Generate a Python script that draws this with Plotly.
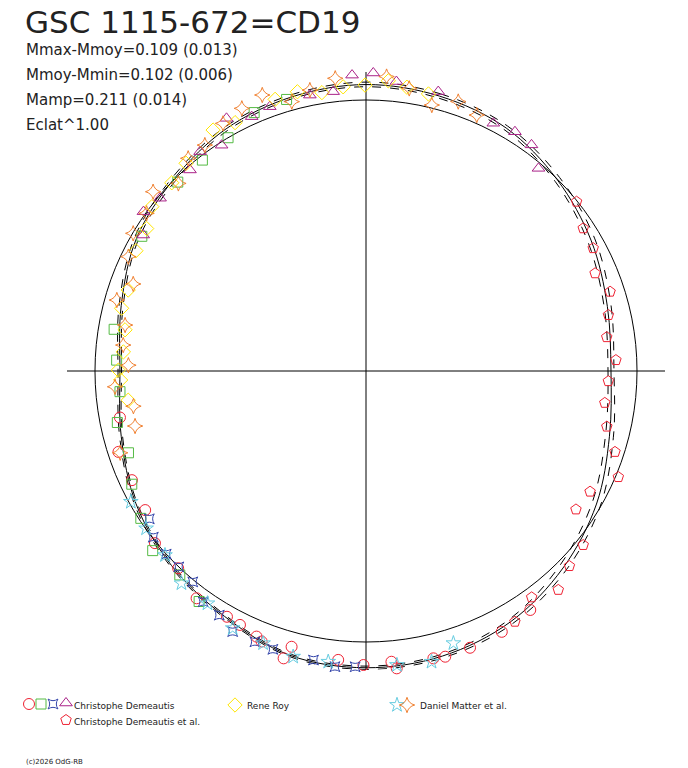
import plotly.graph_objects as go

# ── fitted light curve (phase angle in degrees, clockwise from top; radius = flux / mean flux)
fit_theta = [0, 15, 30, 45, 60, 75, 90, 105, 120, 135, 150, 165, 180,
             195, 210, 225, 240, 255, 270, 285, 300, 315, 330, 345, 360]
fit_r = [1.057, 1.050, 1.035, 0.998, 0.960, 0.922, 0.904, 0.930, 0.982, 1.028, 1.068, 1.089, 1.095,
         1.086, 1.045, 1.015, 0.980, 0.935, 0.908, 0.935, 0.978, 1.002, 1.032, 1.048, 1.057]
fit_hi = [1.066, 1.059, 1.044, 1.010, 0.975, 0.936, 0.915, 0.945, 0.998, 1.042, 1.078, 1.096, 1.101,
          1.091, 1.050, 1.020, 0.986, 0.941, 0.915, 0.943, 0.986, 1.010, 1.040, 1.056, 1.066]
fit_lo = [1.049, 1.042, 1.026, 0.988, 0.947, 0.910, 0.893, 0.915, 0.965, 1.013, 1.058, 1.082, 1.089,
          1.081, 1.040, 1.010, 0.975, 0.930, 0.902, 0.928, 0.970, 0.994, 1.024, 1.041, 1.049]

# ── Christophe Demeautis
cd_circ_theta = [145.5, 152.5, 159.4, 164.5, 166.8, 169.7, 174.1, 175.0, 180.5, 180.8, 185.5, 195.1, 196.0,
                 201.1, 202.4, 206.4, 209.5, 216.7, 223.6, 230.8, 237.8, 245.0, 251.9, 259.3]
cd_circ_r = [1.070, 1.085, 1.091, 1.094, 1.089, 1.115, 1.103, 1.077, 1.085, 1.130, 1.071, 1.054, 1.103,
             1.070, 1.060, 1.046, 1.042, 1.046, 1.005, 1.005, 0.963, 0.953, 0.961, 0.924]
cd_sq_theta = [279.4, 272.5, 265.2, 258.3, 251.0, 244.2, 236.8, 229.9, 222.4, 215.9,
               336.6, 343.7, 329.4, 322.2, 315.1, 301.0]
cd_sq_r = [0.942, 0.921, 0.911, 0.937, 0.927, 0.960, 0.993, 1.029, 1.019, 1.050,
           1.039, 1.044, 1.000, 0.985, 0.984, 0.965]
cd_x_theta = [235.7, 232.0, 227.5, 223.7, 219.4, 215.2, 211.0, 207.1, 202.3, 198.5, 190.3, 186.0, 182.1, 177.7]
cd_x_r = [0.968, 0.996, 1.000, 1.000, 1.007, 1.042, 1.051, 1.080, 1.080, 1.083, 1.084, 1.097, 1.092, 1.111]
cd_tri_theta = [357.3, 1.4, 6.0, 10.3, 14.5, 27.2, 31.9, 36.2, 40.4, 353.3, 348.5, 340.0, 335.8,
                331.1, 327.4, 322.9, 318.8, 310.0, 305.6, 301.4]
cd_tri_r = [1.093, 1.100, 1.074, 1.110, 1.065, 1.028, 1.040, 1.034, 0.982, 1.038, 1.039, 1.038, 1.029,
            1.065, 0.989, 1.015, 0.986, 0.992, 1.010, 0.963]

# ── Christophe Demeautis et al.
cdea_theta = [51.2, 56.7, 61.6, 66.9, 72.0, 77.0, 82.0, 87.5, 92.4, 97.6, 103.0, 108.0, 112.8,
              118.3, 123.4, 128.7, 133.8, 138.7, 143.8, 149.3, 154.0]
cdea_r = [0.997, 0.959, 0.953, 0.919, 0.947, 0.918, 0.897, 0.923, 0.895, 0.889, 0.912, 0.966, 1.010,
          0.939, 0.928, 1.027, 1.040, 1.075, 1.035, 1.076, 1.117]

# ── Rene Roy
rr_theta = [359.8, 355.4, 351.0, 346.2, 341.5, 332.2, 327.6, 319.1, 314.1, 307.5, 303.0, 297.6,
            4.4, 8.2, 12.7, 288.8, 284.4, 279.7, 274.5, 270.2, 267.9, 263.0]
rr_r = [1.055, 1.052, 1.040, 1.061, 1.057, 1.036, 1.053, 1.014, 0.998, 0.996, 0.965, 0.958,
        1.074, 1.058, 1.048, 0.927, 0.931, 0.902, 0.898, 0.914, 0.906, 0.884]

# ── Daniel Matter et al.
dm_star_theta = [240.9, 234.4, 227.5, 221.0, 214.3, 207.4, 200.7, 194.3, 187.4, 174.0, 167.3, 162.2]
dm_star_r = [0.993, 0.998, 1.006, 1.038, 1.038, 1.069, 1.074, 1.088, 1.082, 1.091, 1.100, 1.055]
dm_4s_theta = [359.2, 4.0, 354.0, 348.7, 344.6, 339.4, 334.7, 330.0, 324.5, 320.1, 315.0, 310.1, 305.7,
               300.6, 295.7, 8.7, 13.9, 18.9, 23.4, 290.5, 285.9, 280.8, 276.1, 271.4, 266.4, 261.4,
               256.6, 251.6]
dm_4s_r = [1.129, 1.089, 1.086, 1.057, 1.031, 1.088, 1.072, 1.055, 1.024, 1.023, 0.979, 1.027, 0.997,
           0.998, 0.973, 1.055, 1.011, 1.051, 1.029, 0.917, 0.956, 0.905, 0.901, 0.877, 0.928, 0.868,
           0.876, 0.956]

stats = ["Mmax-Mmoy=0.109 (0.013)", "Mmoy-Mmin=0.102 (0.006)", "Mamp=0.211 (0.014)", "Eclat^1.00"]

RED, GREEN, BLUE, PURPLE = "#EE2233", "#55BB44", "#3344AA", "#AA2288"
YELLOW, CYAN, ORANGE = "#FFE600", "#66CCE0", "#F08030"
FONT = "DejaVu Sans"
W, H = 688, 768
CX, CY, RPX = 366, 371, 299      # plot centre and axis half-length in px
RMAX = 1.1033                    # radius at axis end (mean circle = 1)

fig = go.Figure()

for rr, dash in [(fit_hi, "dash"), (fit_lo, "dash"), (fit_r, "solid")]:
    fig.add_scatterpolar(r=rr, theta=fit_theta, mode="lines", line=dict(color="black", width=1, dash=dash,
                         shape="spline"), showlegend=False, hoverinfo="skip")

series = [
    (cd_circ_theta, cd_circ_r, "circle-open", RED, 11),
    (cd_sq_theta, cd_sq_r, "square-open", GREEN, 10),
    (cd_x_theta, cd_x_r, "star-square-open", BLUE, 9),
    (cd_tri_theta, cd_tri_r, "triangle-up-open", PURPLE, 11),
    (cdea_theta, cdea_r, "pentagon-open", RED, 11),
    (rr_theta, rr_r, "diamond-open", YELLOW, 11),
    (dm_star_theta, dm_star_r, "star-open", CYAN, 11),
    (dm_4s_theta, dm_4s_r, "star-diamond-open", ORANGE, 11),
]
for th, rr, sym, col, sz in series:
    fig.add_scatterpolar(r=rr, theta=th, mode="markers", cliponaxis=False, showlegend=False,
                         marker=dict(symbol=sym, size=sz, color=col, line=dict(color=col, width=1)))

# legend keys drawn on a pixel-space overlay
legend_keys = [
    (29, 704, "circle-open", RED, 11), (41, 704, "square-open", GREEN, 10),
    (53, 704, "star-square-open", BLUE, 9), (66, 703, "triangle-up-open", PURPLE, 11),
    (66, 720, "pentagon-open", RED, 11), (235, 705, "diamond-open", YELLOW, 11),
    (397, 705, "star-open", CYAN, 11), (407, 705, "star-diamond-open", ORANGE, 11),
]
for x, y, sym, col, sz in legend_keys:
    fig.add_scatter(x=[x], y=[y], mode="markers", showlegend=False, hoverinfo="skip",
                    marker=dict(symbol=sym, size=sz, color=col, line=dict(color=col, width=1)))

legend_text = [(72, 706, "Christophe Demeautis"), (72, 722, "Christophe Demeautis et al."),
               (245, 706, "Rene Roy"), (418, 706, "Daniel Matter et al.")]
ann = [dict(x=x, y=y, text=t, xref="x", yref="y", showarrow=False, xanchor="left", yanchor="middle",
            font=dict(family=FONT, size=9, color="#222")) for x, y, t in legend_text]
ann.append(dict(x=23, y=22, text="GSC 1115-672=CD19", xref="x", yref="y", showarrow=False,
                xanchor="left", yanchor="middle", font=dict(family=FONT, size=31, color="#222")))
for i, s in enumerate(stats):
    ann.append(dict(x=24, y=50 + 25 * i, text=s, xref="x", yref="y", showarrow=False,
                    xanchor="left", yanchor="middle", font=dict(family=FONT, size=15, color="#222")))
ann.append(dict(x=24, y=762, text="(c)2026 OdG-RB", xref="x", yref="y", showarrow=False,
                xanchor="left", yanchor="middle", font=dict(family=FONT, size=7, color="#222")))

fig.update_layout(
    width=W, height=H, margin=dict(l=0, r=0, t=0, b=0),
    paper_bgcolor="white", plot_bgcolor="rgba(0,0,0,0)",
    xaxis=dict(range=[0, W], visible=False, domain=[0, 1], fixedrange=True),
    yaxis=dict(range=[H, 0], visible=False, domain=[0, 1], fixedrange=True),
    polar=dict(
        domain=dict(x=[(CX - RPX) / W, (CX + RPX) / W], y=[1 - (CY + RPX) / H, 1 - (CY - RPX) / H]),
        bgcolor="rgba(0,0,0,0)",
        angularaxis=dict(rotation=90, direction="clockwise", dtick=90, showline=False,
                         showticklabels=False, ticks="", gridcolor="black", gridwidth=1),
        radialaxis=dict(range=[0, RMAX], tickvals=[1.0], showline=False, showticklabels=False,
                        ticks="", gridcolor="black", gridwidth=1),
    ),
    annotations=ann,
    showlegend=False,
)

fig.write_html("out.html", config={"displayModeBar": False},
               post_script="document.body.style.margin='0px';")
